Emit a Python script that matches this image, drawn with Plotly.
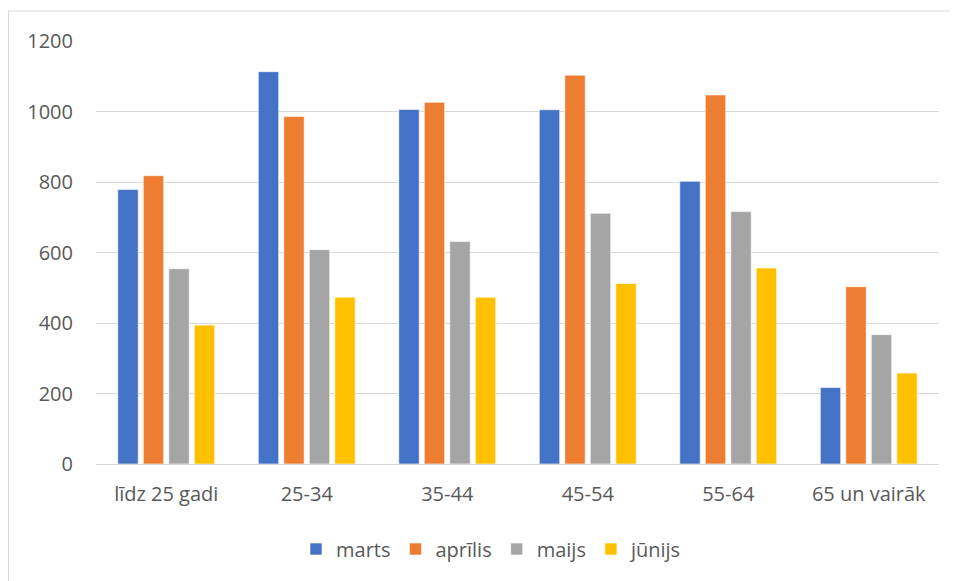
import plotly.graph_objects as go

# age groups and monthly counts
age_groups = ["līdz 25 gadi", "25-34", "35-44", "45-54", "55-64", "65 un vairāk"]
marts = [779, 1113, 1006, 1005, 802, 217]
aprilis = [818, 986, 1026, 1103, 1047, 503]
maijs = [554, 608, 631, 711, 716, 367]
junijs = [394, 473, 473, 512, 556, 258]

series_names = ["marts", "aprīlis", "maijs", "jūnijs"]
colors = ["#4472C4", "#ED7D31", "#A5A5A5", "#FFC000"]

# the page body adds an 8px margin, so the figure is a bit smaller than the window
OFF = 8
W, H = 958 - OFF, 581 - OFF
ML, MR, MT, MB = 96 - OFF, 19, 41 - OFF, 117

fig = go.Figure()
for name, vals, col in zip(series_names, [marts, aprilis, maijs, junijs], colors):
    fig.add_trace(go.Bar(
        x=age_groups, y=vals, name=name,
        marker=dict(color=col, line=dict(color="white", width=0.6)),
    ))

# outer chart frame (Excel-style border), converted from page pixels to paper coords
pw, ph = W - ML - MR, H - MT - MB
def px_x(x):
    return (x - OFF - ML) / pw
def px_y(y):
    return (H - MB - (y - OFF)) / ph

fig.add_shape(type="rect", xref="paper", yref="paper",
              x0=px_x(8.5), x1=px_x(955), y0=px_y(600), y1=px_y(11),
              line=dict(color="#D9D9D9", width=1.2), fillcolor="rgba(0,0,0,0)",
              layer="below")

font = dict(family="'Open Sans', 'Noto Sans', sans-serif", size=20, color="#595959")

fig.update_layout(
    width=W, height=H,
    margin=dict(l=ML, r=MR, t=MT, b=MB, autoexpand=False),
    paper_bgcolor="white", plot_bgcolor="white",
    barmode="group", bargap=0.274, bargroupgap=0.2,
    font=font,
    showlegend=True,
    legend=dict(orientation="h", x=px_x(492), xanchor="center",
                y=px_y(549), yanchor="middle", font=font,
                itemwidth=30, traceorder="normal"),
)
fig.update_xaxes(showgrid=False, showline=False, zeroline=False,
                 ticks="", ticklabelstandoff=16, tickfont=font)
fig.update_yaxes(range=[0, 1200], dtick=200, showgrid=True, gridcolor="#D9D9D9",
                 gridwidth=1.3, zeroline=True, zerolinecolor="#D9D9D9",
                 zerolinewidth=1.3, showline=False, ticks="",
                 ticklabelstandoff=22, tickfont=font)

fig.write_html("out.html")
